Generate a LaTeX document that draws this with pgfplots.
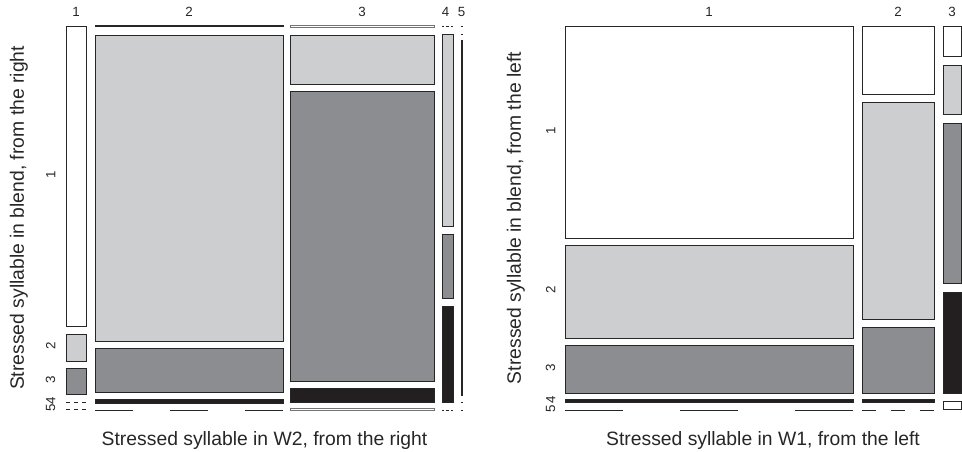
\documentclass[border=0pt]{standalone}
\usepackage{pgfplots}
\pgfplotsset{compat=1.18}
\usepackage{fontspec}
\setmainfont{Liberation Sans}
\definecolor{wt}{HTML}{FFFFFF}
\definecolor{lg}{HTML}{CDCED0}
\definecolor{md}{HTML}{8C8D91}
\definecolor{bk}{HTML}{231F20}
\definecolor{edge}{HTML}{262626}
\pgfplotsset{
  mosaic/.style={scale only axis, y dir=reverse, ymin=20, ymax=416, clip=false, no markers,
    axis line style={draw=none}, major tick length=0pt, tick style={draw=none},
    xticklabel pos=upper,
    ticklabel style={font=\fontsize{10}{12}\selectfont, text=black!85},
    yticklabel style={rotate=90, anchor=south, xshift=1pt},
    xticklabel style={anchor=south, yshift=-0.8pt},
    label style={font=\fontsize{14.5}{17}\selectfont, text=black!85},
    /pgf/number format/assume math mode=true},
  tile/.style={draw=edge, line width=0.7pt},
  zero/.style={draw=edge, line width=0.7pt},
}
\begin{document}
\begin{tikzpicture}
\useasboundingbox (0,0) rectangle (721.5pt,338.25pt);
% ---------------- left mosaic ----------------
\begin{axis}[mosaic, at={(45pt,26.25pt)}, anchor=south west, width=307.5pt, height=297pt,
  xmin=60, xmax=470,
  xtick={76,189,362,445.5,461.5}, xticklabels={1,2,3,4,5},
  ytick={176,347.5,381.2,402,409.5}, yticklabels={1,2,3,4,5},
  xlabel={Stressed syllable in W2, from the right},
  ylabel={Stressed syllable in blend, from the right},
  xlabel style={at={(axis description cs:0.4988,-0.0606)}, anchor=center},
  ylabel style={at={(axis description cs:-0.1,0.5)}, anchor=center, rotate=0},
]
% column 1
\addplot[tile, fill=wt] coordinates {(66,26) (86,26) (86,326) (66,326)} --cycle;
\addplot[tile, fill=lg] coordinates {(66,334) (86,334) (86,361) (66,361)} --cycle;
\addplot[tile, fill=md] coordinates {(66,368) (86,368) (86,394.5) (66,394.5)} --cycle;
\addplot[zero, dash pattern=on 3pt off 3pt] coordinates {(66,402) (86,402)};
\addplot[zero, dash pattern=on 3pt off 3pt] coordinates {(66,409.5) (86,409.5)};
% column 2
\addplot[tile, fill=wt] coordinates {(95,25.8) (283,25.8) (283,26.8) (95,26.8)} --cycle;
\addplot[tile, fill=lg] coordinates {(95,35) (283,35) (283,341) (95,341)} --cycle;
\addplot[tile, fill=md] coordinates {(95,348) (283,348) (283,392.5) (95,392.5)} --cycle;
\addplot[tile, fill=bk] coordinates {(95,399.5) (283,399.5) (283,403) (95,403)} --cycle;
\addplot[zero, dash pattern=on 28.2pt off 28.2pt] coordinates {(95,410) (283,410)};
% column 3
\addplot[tile, draw=black!55, fill=wt] coordinates {(290,25.5) (434,25.5) (434,27) (290,27)} --cycle;
\addplot[tile, fill=lg] coordinates {(290,35) (434,35) (434,84) (290,84)} --cycle;
\addplot[tile, fill=md] coordinates {(290,91) (434,91) (434,381) (290,381)} --cycle;
\addplot[tile, fill=bk] coordinates {(290,388) (434,388) (434,402) (290,402)} --cycle;
\addplot[tile, draw=black!55, fill=wt] coordinates {(290,408.8) (434,408.8) (434,410.6) (290,410.6)} --cycle;
% column 4
\addplot[zero, dash pattern=on 1.65pt off 1.65pt] coordinates {(442,26.5) (453,26.5)};
\addplot[tile, fill=lg] coordinates {(442,34.5) (453,34.5) (453,226) (442,226)} --cycle;
\addplot[tile, fill=md] coordinates {(442,234.5) (453,234.5) (453,298) (442,298)} --cycle;
\addplot[tile, fill=bk] coordinates {(442,306) (453,306) (453,402.5) (442,402.5)} --cycle;
\addplot[zero, dash pattern=on 1.65pt off 1.65pt] coordinates {(442,410.5) (453,410.5)};
% column 5
\addplot[zero] coordinates {(461,26) (462.5,26)};
\addplot[zero] coordinates {(461,34) (462.5,34)};
\addplot[tile, fill=md] coordinates {(461,40) (462.5,40) (462.5,395) (461,395)} --cycle;
\addplot[zero] coordinates {(461,402) (462.5,402)};
\addplot[zero] coordinates {(461,410) (462.5,410)};
\end{axis}
% ---------------- right mosaic ----------------
\begin{axis}[mosaic, at={(420pt,26.25pt)}, anchor=south west, width=301.5pt, height=297pt,
  xmin=560, xmax=962,
  xtick={709,898,952}, xticklabels={1,2,3},
  ytick={132,291.5,369,401,410}, yticklabels={1,2,3,4,5},
  xlabel={Stressed syllable in W1, from the left},
  ylabel={Stressed syllable in blend, from the left},
  xlabel style={at={(axis description cs:0.505,-0.0606)}, anchor=center},
  ylabel style={at={(axis description cs:-0.1095,0.5)}, anchor=center, rotate=0},
]
% column 1
\addplot[tile, fill=wt] coordinates {(565,26) (853,26) (853,238) (565,238)} --cycle;
\addplot[tile, fill=lg] coordinates {(565,245.5) (853,245.5) (853,338) (565,338)} --cycle;
\addplot[tile, fill=md] coordinates {(565,345.5) (853,345.5) (853,393) (565,393)} --cycle;
\addplot[tile, fill=bk] coordinates {(565,399.5) (853,399.5) (853,402.5) (565,402.5)} --cycle;
\addplot[zero, dash pattern=on 43.2pt off 43.2pt] coordinates {(565,410.5) (853,410.5)};
% column 2
\addplot[tile, fill=wt] coordinates {(862,26) (934,26) (934,94) (862,94)} --cycle;
\addplot[tile, fill=lg] coordinates {(862,102) (934,102) (934,319) (862,319)} --cycle;
\addplot[tile, fill=md] coordinates {(862,327) (934,327) (934,393) (862,393)} --cycle;
\addplot[tile, fill=bk] coordinates {(862,399.5) (934,399.5) (934,402.5) (862,402.5)} --cycle;
\addplot[zero, dash pattern=on 10.8pt off 10.8pt] coordinates {(862,410.5) (934,410.5)};
% column 3
\addplot[tile, fill=wt] coordinates {(943,26) (961,26) (961,56) (943,56)} --cycle;
\addplot[tile, fill=lg] coordinates {(943,65) (961,65) (961,114) (943,114)} --cycle;
\addplot[tile, fill=md] coordinates {(943,123) (961,123) (961,283) (943,283)} --cycle;
\addplot[tile, fill=bk] coordinates {(943,292) (961,292) (961,393) (943,393)} --cycle;
\addplot[tile, fill=wt] coordinates {(943,401) (961,401) (961,409) (943,409)} --cycle;
\end{axis}
\end{tikzpicture}
\end{document}
